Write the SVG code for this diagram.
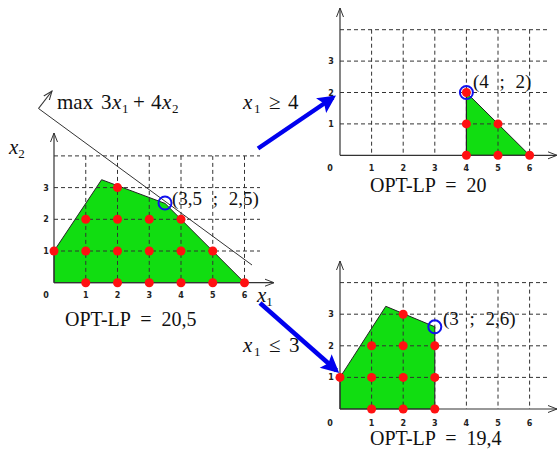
<svg xmlns="http://www.w3.org/2000/svg" width="559" height="449" viewBox="0 0 559 449">
<defs>
<marker id="open" viewBox="0 0 10 10" refX="9" refY="5" markerWidth="10" markerHeight="10" markerUnits="userSpaceOnUse" orient="auto">
<polyline points="0,1.5 9,5 0,8.5" fill="none" stroke="#333" stroke-width="1"/>
</marker>
<marker id="blue" viewBox="0 0 10 10" refX="8" refY="5" markerWidth="22" markerHeight="18" markerUnits="userSpaceOnUse" orient="auto">
<polygon points="0,0 10,5 0,10 2,5" fill="#0000ee"/>
</marker>
</defs>
<style>
.grid{stroke:#333;stroke-width:1;stroke-dasharray:4,3;fill:none}
.axis{stroke:#333;stroke-width:1.2;fill:none;marker-end:url(#open)}
.poly{fill:#11dd11;stroke:#222;stroke-width:1}
.dot{fill:#ff1111}
.opt{fill:none;stroke:#1111ee;stroke-width:2}
.tick{font-family:"DejaVu Sans",sans-serif;font-weight:bold;font-size:8px;fill:#222;text-anchor:middle}
.t{font-family:"Liberation Serif","DejaVu Serif",serif;font-size:19px;fill:#111;word-spacing:6px}
.lbl{font-family:"Liberation Serif","DejaVu Serif",serif;font-size:21px;fill:#111}
.big{font-family:"Liberation Serif","DejaVu Serif",serif;font-size:20px;fill:#111;word-spacing:5px}
.i{font-style:italic}
.conn{stroke:#0000ee;stroke-width:4.5;fill:none;marker-end:url(#blue)}
</style>
<rect width="559" height="449" fill="#fff"/>

<g id="plot-main">
<polygon class="poly" points="54,282.7 54,251 101.6,179.7 165.1,203.45 244.5,282.7"/>
<path class="grid" d="M54,251H260M54,219.3H260M54,187.6H260M54,155.9H260M85.75,155.9V282.7M117.5,155.9V282.7M149.25,155.9V282.7M181,155.9V282.7M212.75,155.9V282.7M244.5,155.9V282.7"/>
<line class="axis" x1="54" y1="282.7" x2="274" y2="282.7"/>
<line class="axis" x1="54" y1="282.7" x2="54" y2="133"/>
<line x1="38.5" y1="108.5" x2="252" y2="265" stroke="#333" stroke-width="1"/>
<line class="axis" x1="38.5" y1="108.5" x2="52" y2="91"/>
<g>
<circle class="dot" cx="85.75" cy="282.7" r="4.5"/><circle class="dot" cx="117.5" cy="282.7" r="4.5"/><circle class="dot" cx="149.25" cy="282.7" r="4.5"/><circle class="dot" cx="181" cy="282.7" r="4.5"/><circle class="dot" cx="212.75" cy="282.7" r="4.5"/><circle class="dot" cx="244.5" cy="282.7" r="4.5"/>
<circle class="dot" cx="54" cy="251" r="4.5"/><circle class="dot" cx="85.75" cy="251" r="4.5"/><circle class="dot" cx="117.5" cy="251" r="4.5"/><circle class="dot" cx="149.25" cy="251" r="4.5"/><circle class="dot" cx="181" cy="251" r="4.5"/><circle class="dot" cx="212.75" cy="251" r="4.5"/>
<circle class="dot" cx="85.75" cy="219.3" r="4.5"/><circle class="dot" cx="117.5" cy="219.3" r="4.5"/><circle class="dot" cx="149.25" cy="219.3" r="4.5"/><circle class="dot" cx="181" cy="219.3" r="4.5"/>
<circle class="dot" cx="117.5" cy="187.6" r="4.5"/>
</g>
<circle class="opt" cx="165" cy="203" r="6.5"/>
<text class="tick" x="46" y="298">0</text>
<text class="tick" x="85.75" y="298">1</text><text class="tick" x="117.5" y="298">2</text><text class="tick" x="149.25" y="298">3</text><text class="tick" x="181" y="298">4</text><text class="tick" x="212.75" y="298">5</text><text class="tick" x="244.5" y="298">6</text>
<text class="tick" x="46" y="254">1</text><text class="tick" x="46" y="222.3">2</text><text class="tick" x="46" y="190.6">3</text>
<text class="lbl" y="109" font-size="19"><tspan x="57">max</tspan><tspan x="101">3</tspan><tspan class="i" x="112">x</tspan><tspan x="122" dy="4" font-size="13">1</tspan><tspan x="133" dy="-4">+</tspan><tspan x="151">4</tspan><tspan class="i" x="162">x</tspan><tspan x="172" dy="4" font-size="13">2</tspan></text>
<text class="lbl i" x="9" y="154">x<tspan font-size="13" font-style="normal" dy="4">2</tspan></text>
<text class="lbl i" x="257" y="302">x<tspan font-size="13" font-style="normal" dy="4">1</tspan></text>
<text class="t" x="172" y="205">(3,5 ; 2,5)</text>
<text class="big" x="65" y="326">OPT-LP = 20,5</text>
</g>

<g id="plot-ge4">
<polygon class="poly" points="466.4,155.3 466.4,92.5 529.6,155.3"/>
<path class="grid" d="M340,123.9H547M340,92.5H547M340,61.1H547M340,29.7H547M371.6,29.7V155.3M403.2,29.7V155.3M434.8,29.7V155.3M466.4,29.7V155.3M498,29.7V155.3M529.6,29.7V155.3"/>
<line x1="466.4" y1="155.3" x2="466.4" y2="92.5" stroke="#222" stroke-width="1"/>
<line class="axis" x1="340" y1="155.3" x2="557" y2="155.3"/>
<line class="axis" x1="340" y1="155.3" x2="340" y2="8"/>
<circle class="dot" cx="466.4" cy="155.3" r="4.5"/><circle class="dot" cx="498" cy="155.3" r="4.5"/><circle class="dot" cx="529.6" cy="155.3" r="4.5"/>
<circle class="dot" cx="466.4" cy="123.9" r="4.5"/><circle class="dot" cx="498" cy="123.9" r="4.5"/>
<circle class="dot" cx="466.4" cy="92.5" r="4.5"/>
<circle class="opt" cx="466.4" cy="92.5" r="6.5"/>
<text class="tick" x="330" y="171">0</text>
<text class="tick" x="371.6" y="171">1</text><text class="tick" x="403.2" y="171">2</text><text class="tick" x="434.8" y="171">3</text><text class="tick" x="466.4" y="171">4</text><text class="tick" x="498" y="171">5</text><text class="tick" x="529.6" y="171">6</text>
<text class="tick" x="331" y="126.9">1</text><text class="tick" x="331" y="95.5">2</text><text class="tick" x="331" y="64.1">3</text>
<text class="t" x="473" y="88">(4 ; 2)</text>
<text class="big" x="370" y="192">OPT-LP = 20</text>
</g>

<g id="plot-le3">
<polygon class="poly" points="340,409 340,377.4 385.8,306.3 434.8,326.8 434.8,409"/>
<path class="grid" d="M340,377.4H547M340,345.8H547M340,314.2H547M340,282.6H547M371.6,282.6V409M403.2,282.6V409M434.8,282.6V409M466.4,282.6V409M498,282.6V409M529.6,282.6V409"/>
<line class="axis" x1="340" y1="409" x2="557" y2="409"/>
<line class="axis" x1="340" y1="409" x2="340" y2="261"/>
<circle class="dot" cx="371.6" cy="409" r="4.5"/><circle class="dot" cx="403.2" cy="409" r="4.5"/><circle class="dot" cx="434.8" cy="409" r="4.5"/>
<circle class="dot" cx="340" cy="377.4" r="4.5"/><circle class="dot" cx="371.6" cy="377.4" r="4.5"/><circle class="dot" cx="403.2" cy="377.4" r="4.5"/><circle class="dot" cx="434.8" cy="377.4" r="4.5"/>
<circle class="dot" cx="371.6" cy="345.8" r="4.5"/><circle class="dot" cx="403.2" cy="345.8" r="4.5"/><circle class="dot" cx="434.8" cy="345.8" r="4.5"/>
<circle class="dot" cx="403.2" cy="314.2" r="4.5"/>
<circle class="opt" cx="434.8" cy="326.8" r="6.5"/>
<text class="tick" x="330" y="426">0</text>
<text class="tick" x="371.6" y="426">1</text><text class="tick" x="403.2" y="426">2</text><text class="tick" x="434.8" y="426">3</text><text class="tick" x="466.4" y="426">4</text><text class="tick" x="498" y="426">5</text><text class="tick" x="529.6" y="426">6</text>
<text class="tick" x="331" y="380.4">1</text><text class="tick" x="331" y="348.8">2</text><text class="tick" x="331" y="317.2">3</text>
<text class="t" x="443" y="325">(3 ; 2,6)</text>
<text class="big" x="370" y="445">OPT-LP = 19,4</text>
</g>

<g id="connectors">
<line class="conn" x1="258" y1="148.5" x2="333" y2="97.5"/>
<line class="conn" x1="260" y1="303" x2="336.5" y2="370.5"/>
<text class="lbl" y="109"><tspan class="i" x="243">x</tspan><tspan x="254" dy="4" font-size="13">1</tspan><tspan x="269" dy="-4">≥</tspan><tspan x="288">4</tspan></text>
<text class="lbl" y="352"><tspan class="i" x="243">x</tspan><tspan x="254" dy="4" font-size="13">1</tspan><tspan x="269" dy="-4">≤</tspan><tspan x="289">3</tspan></text>
</g>
</svg>
